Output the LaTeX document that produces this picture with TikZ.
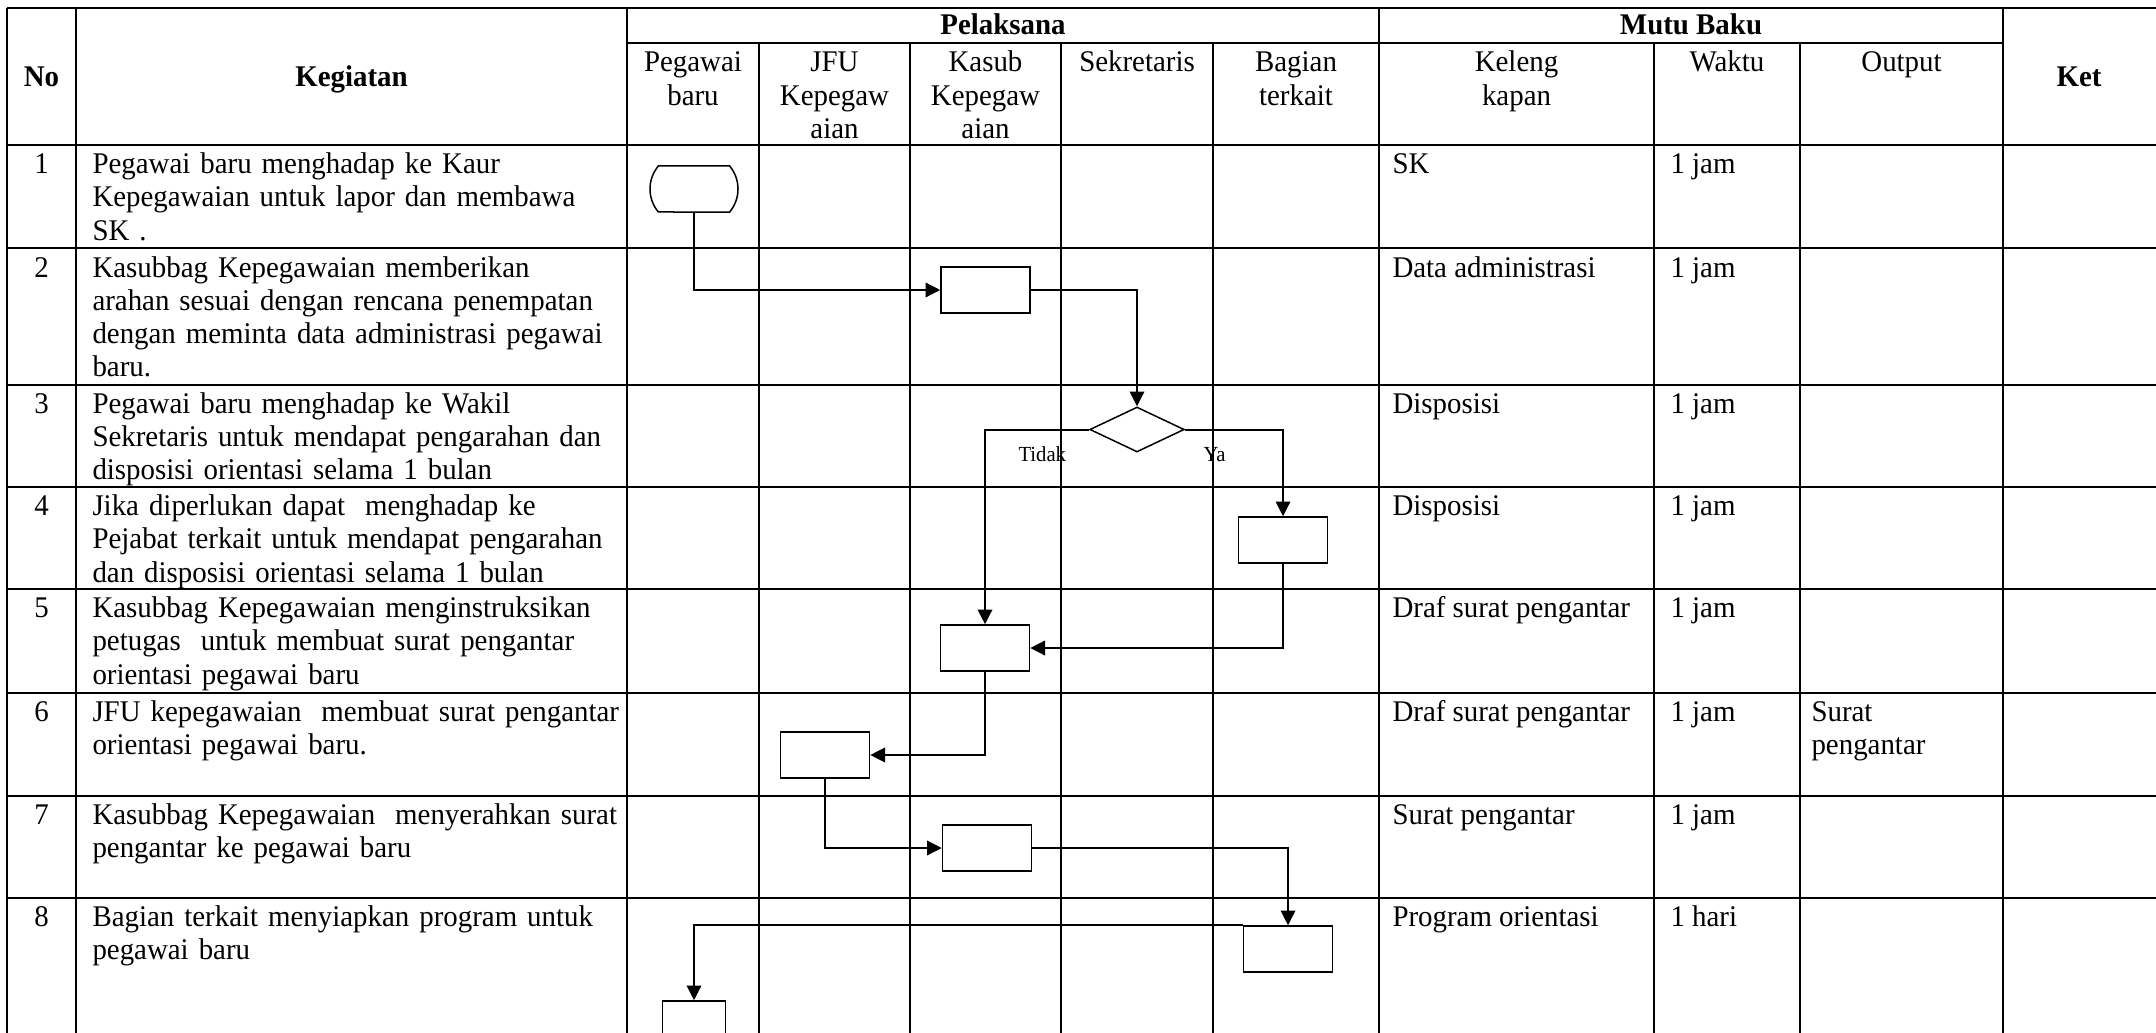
\documentclass[tikz,border=0pt]{standalone}
\usepackage{fontspec}
\setmainfont{Liberation Serif}[FakeStretch=0.963]
\usetikzlibrary{arrows.meta,shapes.geometric,shapes.misc}
\begin{document}
\begin{tikzpicture}[x=0.4pt,y=-0.4pt,
  font=\fontsize{12}{13.3}\selectfont,
  grid/.style={line width=0.8pt},
  proc/.style={draw, line width=0.6pt, minimum width=35.6pt, minimum height=18.4pt, inner sep=0pt},
  term/.style={draw, line width=0.6pt, rounded rectangle, rounded rectangle arc length=80, minimum width=35.2pt, minimum height=18.4pt, inner sep=0pt},
  dec/.style={draw, line width=0.6pt, diamond, minimum width=37.8pt, minimum height=18pt, inner sep=0pt},
  flow/.style={line width=0.8pt, -{Triangle[length=5.9pt,width=5.8pt]}},
  hb/.style={anchor=base, inner sep=0pt, font=\fontsize{12}{13.3}\selectfont\bfseries},
  hc/.style={anchor=base, inner sep=0pt, align=center, text width=60pt},
  num/.style={anchor=base, inner sep=0pt},
  txt/.style={anchor=base west, inner sep=0pt, align=left, text width=225pt},
  ctxt/.style={anchor=base west, inner sep=0pt},
  lbl/.style={anchor=base west, inner sep=0pt, font=\fontsize{8.6}{10}\selectfont}
]
\useasboundingbox (0,0) rectangle (2156,1032);
\clip (0,0) rectangle (2156,1032);

% ---------- table grid ----------
\draw[grid] (7,8) -- (2160,8);
\draw[grid] (627,43) -- (2003,43);
\draw[grid] (7,145) -- (2160,145);
\foreach \yy in {248,385,487,589,693,796,898}
  \draw[grid] (7,\yy) -- (2160,\yy);
\foreach \xx in {7,76,627,1379,2003}
  \draw[grid] (\xx,8) -- (\xx,1040);
\foreach \xx in {759,910,1061,1213,1654,1800}
  \draw[grid] (\xx,43) -- (\xx,1040);

% ---------- header ----------
\node[hb] (hNo) at (41.5,87) {No};
\node[hb] (hKeg) at (351.5,87) {Kegiatan};
\node[hb] (hPel) at (1003,35) {Pelaksana};
\node[hb] (hMutu) at (1691,35) {Mutu Baku};
\node[hb] (hKet) at (2079,87) {Ket};
\node[hc] (hPeg) at (693,72) {Pegawai\\baru};
\node[hc] (hJFU) at (834.5,72) {JFU\\Kepegaw\\aian};
\node[hc] (hKas) at (985.5,72) {Kasub\\Kepegaw\\aian};
\node[hc] (hSek) at (1137,72) {Sekretaris};
\node[hc] (hBag) at (1296,72) {Bagian\\terkait};
\node[hc] (hKel) at (1516.5,72) {Keleng\\kapan};
\node[hc] (hWak) at (1727,72) {Waktu};
\node[hc] (hOut) at (1901.5,72) {Output};

% ---------- rows ----------
\node[num] (n1) at (41.5,173.5) {1};
\node[num] (n2) at (41.5,277) {2};
\node[num] (n3) at (41.5,413) {3};
\node[num] (n4) at (41.5,515.5) {4};
\node[num] (n5) at (41.5,617.5) {5};
\node[num] (n6) at (41.5,721.5) {6};
\node[num] (n7) at (41.5,824.5) {7};
\node[num] (n8) at (41.5,926.5) {8};

\node[txt] (k1) at (92,173.5) {Pegawai baru menghadap ke Kaur\\Kepegawaian untuk lapor dan membawa\\SK .};
\node[txt] (k2) at (92,277) {Kasubbag Kepegawaian memberikan\\arahan sesuai dengan rencana penempatan\\dengan meminta data administrasi pegawai\\baru.};
\node[txt] (k3) at (92,413) {Pegawai baru menghadap ke Wakil\\Sekretaris untuk mendapat pengarahan dan\\disposisi orientasi selama 1 bulan};
\node[txt] (k4) at (92,515.5) {Jika diperlukan dapat\ \ menghadap ke\\Pejabat terkait untuk mendapat pengarahan\\dan disposisi orientasi selama 1 bulan};
\node[txt] (k5) at (92,617.5) {Kasubbag Kepegawaian menginstruksikan\\petugas\ \ untuk membuat surat pengantar\\orientasi pegawai baru};
\node[txt] (k6) at (92,721.5) {JFU kepegawaian\ \ membuat surat pengantar\\orientasi pegawai baru.};
\node[txt] (k7) at (92,824.5) {Kasubbag Kepegawaian\ \ menyerahkan surat\\pengantar ke pegawai baru};
\node[txt] (k8) at (92,926.5) {Bagian terkait menyiapkan program untuk\\pegawai baru};

\node[ctxt] (m1) at (1392,173.5) {SK};
\node[ctxt] (m2) at (1392,277) {Data administrasi};
\node[ctxt] (m3) at (1392,413) {Disposisi};
\node[ctxt] (m4) at (1392,515.5) {Disposisi};
\node[ctxt] (m5) at (1392,617.5) {Draf surat pengantar};
\node[ctxt] (m6) at (1392,721.5) {Draf surat pengantar};
\node[ctxt] (m7) at (1392,824.5) {Surat pengantar};
\node[ctxt] (m8) at (1392,926.5) {Program orientasi};

\node[ctxt] (w1) at (1670,173.5) {1 jam};
\node[ctxt] (w2) at (1670,277) {1 jam};
\node[ctxt] (w3) at (1670,413) {1 jam};
\node[ctxt] (w4) at (1670,515.5) {1 jam};
\node[ctxt] (w5) at (1670,617.5) {1 jam};
\node[ctxt] (w6) at (1670,721.5) {1 jam};
\node[ctxt] (w7) at (1670,824.5) {1 jam};
\node[ctxt] (w8) at (1670,926.5) {1 hari};

\node[ctxt, align=left, text width=70pt] (o6) at (1811,721.5) {Surat\\pengantar};

% ---------- flowchart ----------
\node[term] (t1) at (694,189) {};
\node[proc] (b2) at (985.5,290) {};
\node[dec]  (d3) at (1137,429.5) {};
\node[proc] (b4) at (1283,540) {};
\node[proc] (b5) at (985,648) {};
\node[proc] (b6) at (825,755) {};
\node[proc] (b7) at (987,848) {};
\node[proc] (b8) at (1288,949) {};
\node[proc, minimum width=25.2pt] (b9) at (694,1024) {};

\draw[flow] (t1.south) |- (b2.west);
\draw[flow] (b2.east) -| (d3.north);
\draw[flow] (d3.west) -| (b5.north);
\draw[flow] (d3.east) -| (b4.north);
\draw[flow] (b4.south) |- (b5.east);
\draw[flow] (b5.south) |- (b6.east);
\draw[flow] (b6.south) |- (b7.west);
\draw[flow] (b7.east) -| (b8.north);
\draw[flow] (b8.north west) -| (b9.north);

\node[lbl] (lt) at (1018,461) {Tidak};
\node[lbl] (ly) at (1203,461) {Ya};
\end{tikzpicture}
\end{document}
